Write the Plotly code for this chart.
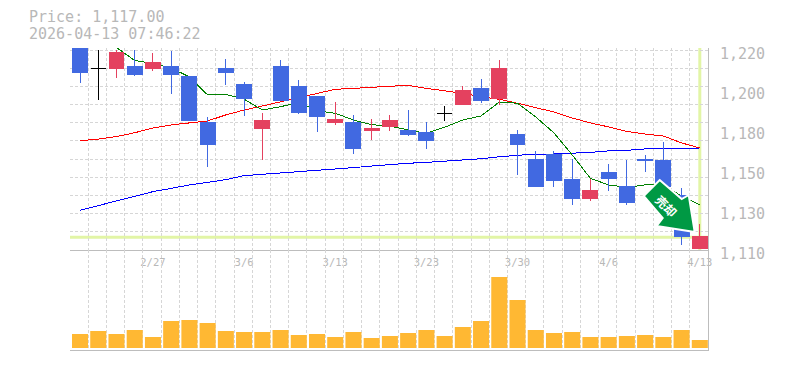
import plotly.graph_objects as go

title_price = "Price: 1,117.00"
title_time = "2026-04-13 07:46:22"

# Candles, oldest first (doji sessions are listed in the doji arrays)
candle_idx = [0, 2, 3, 4, 5, 6, 7, 8, 9, 10, 11, 12, 13, 14, 15, 16, 17, 18, 19, 21, 22, 23, 24, 25, 26, 27, 28, 29, 30, 31, 32, 33, 34]
opens = [1225.5, 1209.6, 1211.2, 1209.6, 1211.2, 1205.2, 1180.4, 1210.1, 1201.3, 1176.6, 1211.2, 1200.2, 1194.2, 1179.9, 1180.4, 1175.5, 1177.7, 1175.5, 1174.4, 1189.8, 1199.1, 1193.6, 1173.3, 1160.0, 1162.3, 1149.0, 1138.6, 1152.4, 1145.2, 1160.0, 1159.5, 1140.2, 1110.7]
closes = [1207.9, 1218.4, 1206.8, 1213.4, 1206.8, 1181.0, 1167.8, 1207.9, 1193.6, 1181.5, 1192.0, 1185.9, 1183.7, 1182.0, 1165.6, 1177.1, 1181.5, 1173.8, 1170.0, 1197.5, 1192.5, 1210.1, 1167.8, 1144.7, 1148.5, 1138.6, 1143.0, 1149.6, 1135.9, 1159.0, 1144.7, 1117.7, 1117.2]
highs = [1225.5, 1220.0, 1220.0, 1218.4, 1219.5, 1205.2, 1183.2, 1215.0, 1202.4, 1185.4, 1214.5, 1203.5, 1194.2, 1191.4, 1184.3, 1182.0, 1184.3, 1187.0, 1180.4, 1200.2, 1204.0, 1214.5, 1176.0, 1164.5, 1164.5, 1160.0, 1149.0, 1157.3, 1159.5, 1162.3, 1169.4, 1144.0, 1124.3]
lows = [1201.9, 1204.6, 1205.7, 1208.5, 1195.8, 1181.0, 1155.8, 1200.8, 1183.7, 1159.5, 1192.0, 1184.8, 1174.9, 1178.8, 1162.8, 1170.5, 1175.5, 1172.7, 1165.6, 1189.8, 1190.9, 1189.8, 1151.0, 1144.7, 1144.7, 1134.8, 1137.0, 1142.5, 1134.8, 1152.9, 1140.0, 1112.9, 1110.7]

doji_idx = [1, 20]
doji_price = [1210.0, 1185.2]
doji_high = [1220.0, 1189.2]
doji_low = [1192.7, 1181.0]

ma_fast_idx = list(range(2, 35))
ma_fast = [1221.4, 1214.2, 1212.6, 1210.1, 1205.2, 1195.3, 1195.6, 1193.0, 1187.0, 1188.8, 1191.2, 1186.6, 1185.2, 1181.5, 1178.9, 1178.2, 1176.0, 1174.2, 1177.5, 1181.5, 1183.7, 1191.4, 1190.7, 1183.2, 1174.4, 1162.3, 1149.4, 1145.8, 1144.5, 1145.8, 1145.8, 1139.7, 1134.8]
ma_mid = [1170.1, 1171.0, 1172.4, 1174.5, 1177.1, 1178.8, 1179.9, 1181.0, 1184.3, 1187.0, 1189.2, 1191.4, 1194.0, 1196.2, 1198.4, 1198.9, 1199.5, 1200.4, 1200.6, 1198.9, 1197.6, 1196.2, 1194.3, 1192.9, 1190.7, 1188.1, 1185.9, 1182.6, 1179.9, 1177.7, 1175.2, 1173.8, 1172.7, 1168.9, 1166.1]
ma_slow = [1131.8, 1134.2, 1137.0, 1139.5, 1142.1, 1143.9, 1145.8, 1147.2, 1148.7, 1150.9, 1151.6, 1152.2, 1153.1, 1153.8, 1154.7, 1155.3, 1156.2, 1157.1, 1157.7, 1158.2, 1158.8, 1159.3, 1160.2, 1161.3, 1162.1, 1162.8, 1162.8, 1163.2, 1163.7, 1164.5, 1164.8, 1165.6, 1165.9, 1166.1, 1166.1]
ma_idx = list(range(35))

volume = [14, 17, 14, 18, 11, 27, 28, 25, 17, 16, 16, 18, 13, 14, 11, 16, 10, 12, 15, 18, 12, 21, 27, 71, 48, 18, 15, 16, 11, 11, 12, 13, 11, 18, 8]

date_ticks = [4, 9, 14, 19, 24, 29, 34]
date_labels = ["2/27", "3/6", "3/13", "3/23", "3/30", "4/6", "4/13"]
price_ticks = [1132, 1154, 1176, 1198, 1220]
price_labels = ["1,130", "1,150", "1,180", "1,200", "1,220"]
bottom_label = "1,110"
last_price = 1117.0

GRID = "#d6d6d6"
AXIS = "#bdbdbd"
TEXT = "#b8b8b8"
RED = "#e4415f"
BLUE = "#4169e1"
LIME = "#e2f5a6"
ORANGE = "#ffb833"
MONO = "DejaVu Sans Mono"

W, H = 785, 370
L, R, T, B = 70.3, 76.7, 48, 20
PW, PH = W - L - R, H - T - B
YMIN, YMAX = 1110, 1221.1
XMIN, XMAX = -0.55, 34.45
LABEL_SHIFT = 2.0


def px(x):
    return (x - L) / PW


def py(y):
    return (H - B - y) / PH


fig = go.Figure()

for name, xs, ys, col in [
    ("MA slow", ma_idx, ma_slow, "#0000ff"),
    ("MA mid", ma_idx, ma_mid, "#ff0000"),
    ("MA fast", ma_fast_idx, ma_fast, "#008000"),
]:
    fig.add_trace(go.Scatter(x=xs, y=ys, mode="lines", name=name, line=dict(color=col, width=1), yaxis="y"))

fig.add_trace(go.Candlestick(
    x=candle_idx, open=opens, high=highs, low=lows, close=closes, name="Price",
    increasing=dict(line=dict(color=RED, width=1), fillcolor=RED),
    decreasing=dict(line=dict(color=BLUE, width=1), fillcolor=BLUE),
    whiskerwidth=0, yaxis="y3",
))
fig.add_trace(go.Candlestick(
    x=doji_idx, open=doji_price, high=doji_high, low=doji_low, close=doji_price, name="Doji",
    increasing=dict(line=dict(color="#000000", width=1), fillcolor="#000000"),
    decreasing=dict(line=dict(color="#000000", width=1), fillcolor="#000000"),
    whiskerwidth=0, yaxis="y3",
))

fig.add_trace(go.Bar(x=ma_idx, y=volume, name="Volume", marker=dict(color=ORANGE, line=dict(width=0)),
                     width=0.88, xaxis="x2", yaxis="y2"))

minor_x = dict(tick0=XMIN, dtick=1, showgrid=True, gridcolor=GRID, griddash="3px,2px", gridwidth=1, ticks="")
price_split = (H - B - 250) / PH

fig.update_layout(
    width=W, height=H, autosize=False,
    margin=dict(l=L, r=R, t=T, b=B, pad=0),
    paper_bgcolor="#ffffff", plot_bgcolor="#ffffff",
    showlegend=False, hovermode=False, boxgap=0.18, boxgroupgap=0, bargap=0.12,
    xaxis=dict(domain=[0, 1], range=[XMIN, XMAX], anchor="y", tickmode="array", tickvals=date_ticks, ticktext=date_labels,
               showgrid=False, zeroline=False, showline=True, linecolor=AXIS, linewidth=1, ticks="",
               tickfont=dict(family=MONO, size=10.5, color=TEXT), ticklabelstandoff=2,
               rangeslider=dict(visible=False), minor=minor_x),
    xaxis2=dict(domain=[0, 1], range=[XMIN, XMAX], anchor="y2", matches="x", showticklabels=False, showgrid=False,
                zeroline=False, showline=True, linecolor=AXIS, linewidth=1, ticks="", minor=minor_x,
                rangeslider=dict(visible=False)),
    yaxis=dict(domain=[price_split, 1], range=[YMIN, YMAX], anchor="x", side="right", tickmode="array",
               tickvals=[v - LABEL_SHIFT for v in price_ticks], ticktext=price_labels, showgrid=False, zeroline=False,
               showline=True, linecolor=AXIS, linewidth=1, ticks="",
               tickfont=dict(family=MONO, size=15, color=TEXT), ticklabelstandoff=8,
               minor=dict(tick0=1110, dtick=10, showgrid=True, gridcolor=GRID, griddash="3px,2px", gridwidth=1, ticks="")),
    yaxis2=dict(domain=[0, price_split], range=[-2, 98], anchor="x2", side="right", tickmode="array", tickvals=[94.5],
                ticktext=[bottom_label], tickfont=dict(family=MONO, size=15, color=TEXT), ticklabelstandoff=8,
                showgrid=False, zeroline=False, showline=True, linecolor=AXIS, linewidth=1, ticks=""),
    yaxis3=dict(domain=[price_split, 1], range=[YMIN, YMAX], anchor="x", overlaying="y", side="right",
                showticklabels=False, showgrid=False, zeroline=False, ticks=""),
    shapes=[
        dict(type="line", xref="paper", x0=0, x1=1, yref="y", y0=last_price, y1=last_price,
             line=dict(color=LIME, width=3), layer="below"),
        dict(type="line", xref="x", x0=34, x1=34, yref="paper", y0=price_split, y1=1,
             line=dict(color=LIME, width=3), layer="below"),
        dict(type="path", xref="paper", yref="paper", layer="above",
             path="M {} {} L {} {} L {} {} L {} {} L {} {} L {} {} L {} {} Z".format(
                 px(660), py(180), px(682), py(199), px(689), py(195), px(695), py(232),
                 px(657), py(226), px(663), py(218), px(644), py(196)),
             fillcolor="#009944", line=dict(color="#ffffff", width=2)),
    ],
    annotations=[
        dict(text=title_price, xref="paper", yref="paper", x=px(27), y=py(16.5), xanchor="left", yanchor="middle",
             showarrow=False, font=dict(family=MONO, size=15, color=TEXT)),
        dict(text=title_time, xref="paper", yref="paper", x=px(27), y=py(34.5), xanchor="left", yanchor="middle",
             showarrow=False, font=dict(family=MONO, size=15, color=TEXT)),
        dict(text="<b>売却</b>", xref="paper", yref="paper", x=px(667), y=py(205), xanchor="center", yanchor="middle",
             showarrow=False, textangle=45, font=dict(family="Noto Sans CJK JP", size=12, color="#ffffff")),
    ],
)

fig.write_html(
    "out.html",
    config={"displayModeBar": False},
    post_script=(
        "document.body.style.margin='0';"
        "var s=document.createElement('style');"
        "s.textContent='.scatterlayer path,.boxlayer path,.gridlayer path,.minor-gridlayer path{shape-rendering:crispEdges}';"
        "document.head.appendChild(s);"
    ),
)
